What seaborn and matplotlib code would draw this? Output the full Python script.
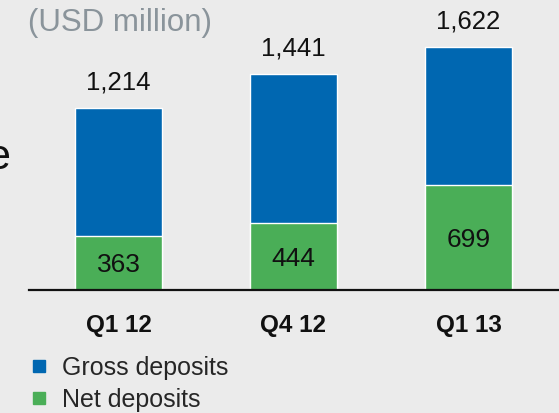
import matplotlib
matplotlib.use("Agg")
import matplotlib.pyplot as plt
import seaborn as sns
import pandas as pd
from matplotlib.lines import Line2D

categories = ["Q1 12", "Q4 12", "Q1 13"]
gross = [1214, 1441, 1622]
net = [363, 444, 699]
gross_labels = ["1,214", "1,441", "1,622"]
net_labels = ["363", "444", "699"]

BLUE = "#0067B1"
GREEN = "#4AAE57"
BG = "#EBEBEB"

sns.set_theme(style="white")
plt.rcParams["font.family"] = ["Liberation Sans", "DejaVu Sans"]

df = pd.DataFrame({"cat": categories, "gross": gross, "net": net})

fig = plt.figure(figsize=(5.59, 4.13), dpi=100, facecolor=BG)
W, H = 559, 413
ax_left, ax_right, ax_bottom, ax_top = 29, 559, 290, 5
ax = fig.add_axes([ax_left / W, 1 - ax_bottom / H, (ax_right - ax_left) / W, (ax_bottom - ax_top) / H])
ax.set_facecolor(BG)

sns.barplot(data=df, x="cat", y="gross", color=BLUE, width=0.5, saturation=1, ax=ax, order=categories)
sns.barplot(data=df, x="cat", y="net", color=GREEN, width=0.5, saturation=1, ax=ax, order=categories)

ax.set_ylim(0, 285 / 0.15)
ax.set_xlim(-(118.5 - 29) / 175, (559 - 118.5) / 175)

for i, (g, n) in enumerate(zip(gross, net)):
    ax.annotate(gross_labels[i], (i, g), xytext=(0, 9.5), textcoords="offset points",
                ha="center", va="bottom", fontsize=18.5, color="#111111")
    ax.annotate(net_labels[i], (i, n / 2), xytext=(0, -1.5), textcoords="offset points",
                ha="center", va="center", fontsize=19, color="#111111")

for s in ["top", "right", "left"]:
    ax.spines[s].set_visible(False)
ax.spines["bottom"].set_color("#111111")
ax.spines["bottom"].set_linewidth(1.6)
ax.set_yticks([])
ax.set_xlabel("")
ax.set_ylabel("")
ax.tick_params(axis="x", length=0, pad=17)
for lbl in ax.get_xticklabels():
    lbl.set_fontweight("bold")
    lbl.set_fontsize(17.5)
    lbl.set_color("#111111")

fig.text(28 / W, 1 - 23 / H, "(USD million)", fontsize=22.5, color="#8A949B", ha="left", va="center")
fig.text(10 / W, 1 - 158 / H, "e", fontsize=31, color="#111111", ha="right", va="center")

handles = [Line2D([], [], marker="s", linestyle="none", markersize=8, color=BLUE),
           Line2D([], [], marker="s", linestyle="none", markersize=8, color=GREEN)]
fig.legend(handles, ["Gross deposits", "Net deposits"], loc="upper left",
           bbox_to_anchor=(26 / W, 1 - 356 / H), frameon=False, fontsize=18,
           handletextpad=0.45, labelspacing=0.3, handlelength=1.0, borderpad=0, borderaxespad=0)

fig.savefig("out.png", dpi=100, facecolor=BG)
